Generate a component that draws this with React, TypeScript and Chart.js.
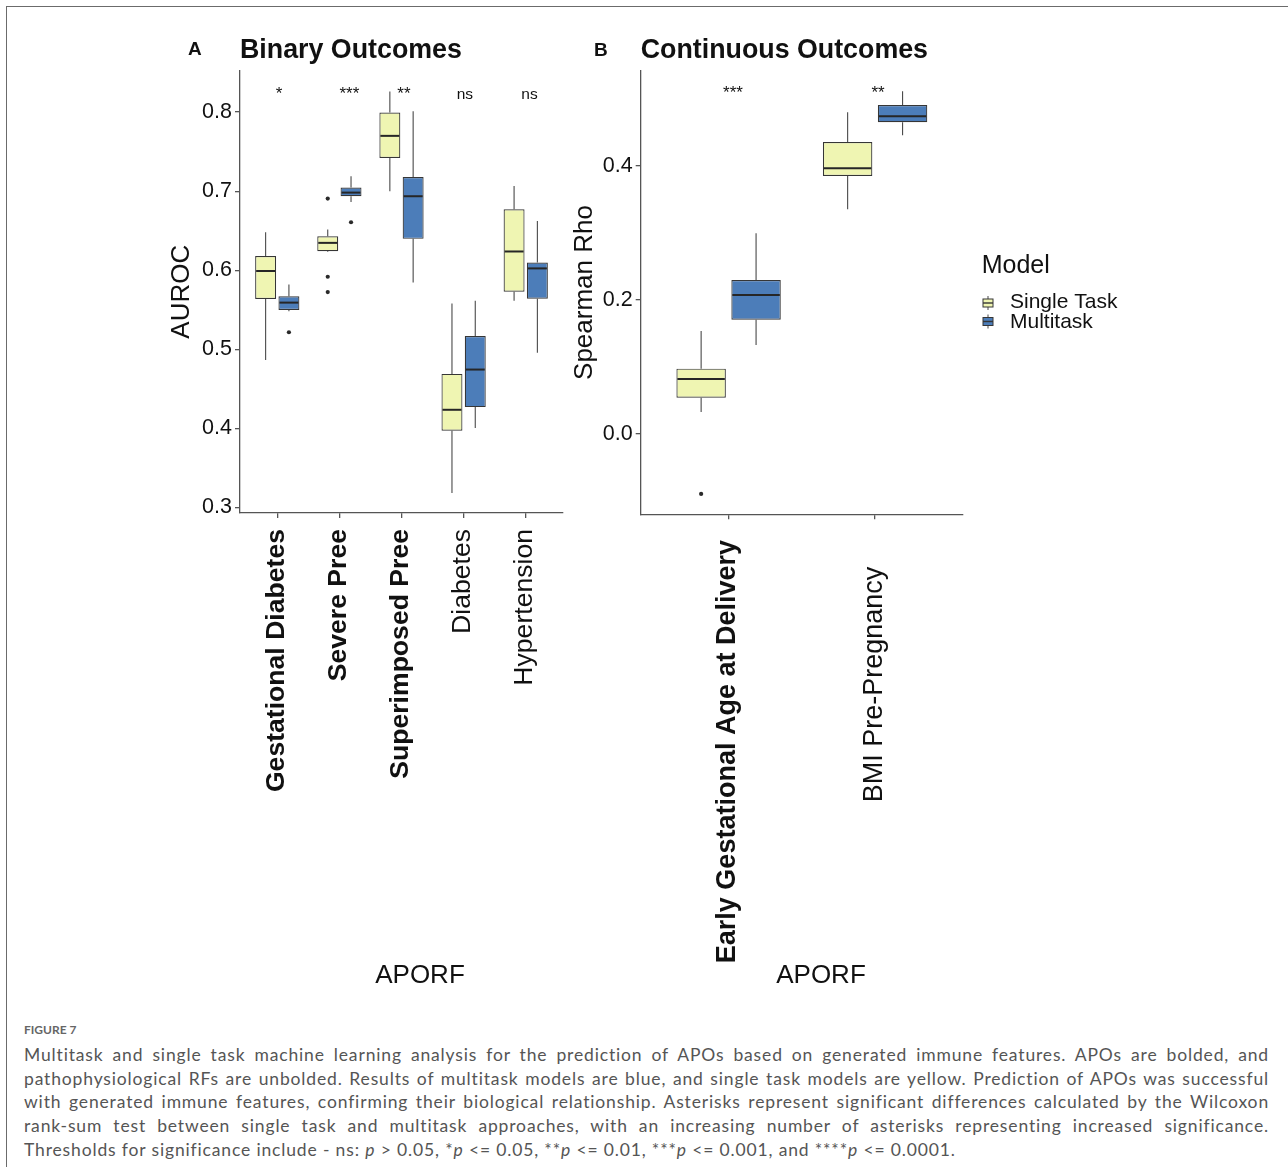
import React, { useEffect, useRef } from 'react';
import { Chart, registerables } from 'chart.js';

Chart.register(...registerables);

const SANS = '"Liberation Sans", Arial, Helvetica, sans-serif';
const SINGLE_FILL = '#EFF5B2';
const MULTI_FILL = '#4C7DB9';
const BOX_BORDER = '#363636';
const WHISKER = '#4a4a4a';
const AXIS = '#555555';
const INK = '#111111';

// ---------- Panel A: Binary outcomes (AUROC) ----------
// each entry: [min, q1, median, q3, max]
const binaryCategories = ['Gestational Diabetes', 'Severe Pree', 'Superimposed Pree', 'Diabetes', 'Hypertension'];
const binaryIsApo = [true, true, true, false, false];
const binarySingleTask = [
  [0.4865, 0.5635, 0.599, 0.618, 0.648],
  [0.623, 0.624, 0.6346, 0.643, 0.6515],
  [0.7, 0.742, 0.77, 0.7996, 0.826],
  [0.3182, 0.3969, 0.4234, 0.4688, 0.558],
  [0.5614, 0.5728, 0.6237, 0.6772, 0.7066],
];
const binarySingleOutliers = [[], [0.6906, 0.5917, 0.5724], [], [], []];
const binaryMultitask = [
  [0.548, 0.5496, 0.559, 0.567, 0.582],
  [0.6864, 0.6936, 0.6982, 0.7046, 0.7188],
  [0.5846, 0.6397, 0.6936, 0.718, 0.801],
  [0.4002, 0.4268, 0.4743, 0.5168, 0.5614],
  [0.4957, 0.5639, 0.6023, 0.6098, 0.6624],
];
const binaryMultiOutliers = [[0.5215], [0.6607], [], [], []];
const binarySignificance = ['*', '***', '**', 'ns', 'ns'];
const binarySigPos = [1.03, 2.16, 3.04, 4.02, 5.06];
const binaryYTicks = [0.3, 0.4, 0.5, 0.6, 0.7, 0.8];

// ---------- Panel B: Continuous outcomes (Spearman Rho) ----------
const continuousCategories = ['Early Gestational Age at Delivery', 'BMI Pre-Pregnancy'];
const continuousIsApo = [true, false];
const continuousSingleTask = [
  [0.0324, 0.0538, 0.0818, 0.0972, 0.1535],
  [0.3354, 0.3852, 0.3967, 0.436, 0.4804],
];
const continuousSingleOutliers = [[-0.0901], []];
const continuousMultitask = [
  [0.1326, 0.1704, 0.2073, 0.2297, 0.2995],
  [0.446, 0.4655, 0.4744, 0.4913, 0.5118],
];
const continuousMultiOutliers = [[], []];
const continuousSignificance = ['***', '**'];
const continuousSigPos = [1.03, 2.02];
const continuousYTicks = [0.0, 0.2, 0.4];

const legendLabels = ['Single Task', 'Multitask'];

interface Geo {
  width: number; height: number; left: number; top: number; right: number; xAxisHeight: number;
  tagX: number; tagY: number; titleY: number; yTitleX: number; labelGaps: number[]; labelSize: number;
  aporfX: number; aporfY: number;
}

interface Panel {
  tag: string; title: string; yTitle: string; xTitle: string;
  categories: string[]; bold: boolean[];
  single: number[][]; singleOut: number[][]; multi: number[][]; multiOut: number[][];
  sig: string[]; sigPos: number[]; sigY: number;
  yMin: number; yMax: number; yTicks: number[];
  geo: Geo; legend: boolean;
}

function drawKey(ctx: CanvasRenderingContext2D, cx: number, cy: number, fill: string) {
  const w = 10, h = 8;
  ctx.save();
  ctx.strokeStyle = WHISKER; ctx.lineWidth = 1;
  ctx.beginPath();
  ctx.moveTo(cx, cy - h / 2 - 3); ctx.lineTo(cx, cy - h / 2);
  ctx.moveTo(cx, cy + h / 2); ctx.lineTo(cx, cy + h / 2 + 3);
  ctx.stroke();
  ctx.fillStyle = fill; ctx.fillRect(cx - w / 2, cy - h / 2, w, h);
  ctx.strokeStyle = BOX_BORDER; ctx.lineWidth = 1;
  ctx.strokeRect(cx - w / 2, cy - h / 2, w, h);
  ctx.beginPath(); ctx.moveTo(cx - w / 2, cy); ctx.lineTo(cx + w / 2, cy); ctx.lineWidth = 1.4; ctx.stroke();
  ctx.restore();
}

function makeChart(canvas: HTMLCanvasElement, p: Panel) {
  const g = p.geo;
  const n = p.categories.length;
  const plugin = {
    id: 'boxplot' + p.tag,
    beforeDatasetsDraw(chart: any) {
      const ctx = chart.ctx; const y = chart.scales.y;
      [p.single, p.multi].forEach((series, d) => {
        const meta = chart.getDatasetMeta(d);
        series.forEach((s, i) => {
          const el: any = meta.data[i];
          const cx = el.x;
          ctx.save();
          ctx.strokeStyle = WHISKER; ctx.lineWidth = 1.1;
          ctx.beginPath();
          ctx.moveTo(cx, y.getPixelForValue(s[3])); ctx.lineTo(cx, y.getPixelForValue(s[4]));
          ctx.moveTo(cx, y.getPixelForValue(s[1])); ctx.lineTo(cx, y.getPixelForValue(s[0]));
          ctx.stroke();
          ctx.restore();
        });
      });
    },
    afterDatasetsDraw(chart: any) {
      const ctx = chart.ctx; const y = chart.scales.y;
      [p.single, p.multi].forEach((series, d) => {
        const meta = chart.getDatasetMeta(d);
        const outs = d === 0 ? p.singleOut : p.multiOut;
        series.forEach((s, i) => {
          const el: any = meta.data[i];
          const cx = el.x; const w = el.width;
          ctx.save();
          ctx.strokeStyle = '#262626'; ctx.lineWidth = 2;
          ctx.beginPath();
          const my = y.getPixelForValue(s[2]);
          ctx.moveTo(cx - w / 2 + 1, my); ctx.lineTo(cx + w / 2 - 1, my);
          ctx.stroke();
          ctx.fillStyle = '#2a2a2a';
          outs[i].forEach((o) => {
            ctx.beginPath(); ctx.arc(cx, y.getPixelForValue(o), 2.1, 0, Math.PI * 2); ctx.fill();
          });
          ctx.restore();
        });
      });
    },
    afterDraw(chart: any) {
      const ctx = chart.ctx; const ca = chart.chartArea; const x = chart.scales.x; const y = chart.scales.y;
      ctx.save();
      ctx.fillStyle = INK; ctx.textAlign = 'left'; ctx.textBaseline = 'alphabetic';
      ctx.font = `bold 19px ${SANS}`; ctx.fillText(p.tag, g.tagX, g.tagY);
      ctx.font = `bold 26.8px ${SANS}`; ctx.fillText(p.title, ca.left, g.titleY);
      // y title
      ctx.save();
      ctx.translate(g.yTitleX, (ca.top + ca.bottom) / 2); ctx.rotate(-Math.PI / 2);
      ctx.font = `26px ${SANS}`; ctx.textAlign = 'center'; ctx.textBaseline = 'middle';
      ctx.fillText(p.yTitle, 0, 0);
      ctx.restore();
      // x category labels
      p.categories.forEach((lab, i) => {
        const px = x.getPixelForValue(i + 1);
        ctx.save();
        ctx.translate(px - 1, ca.bottom + g.labelGaps[i]); ctx.rotate(-Math.PI / 2);
        ctx.font = `${p.bold[i] ? 'bold ' : ''}${g.labelSize}px ${SANS}`;
        ctx.textAlign = 'right'; ctx.textBaseline = 'middle';
        ctx.fillText(lab, 0, 0);
        ctx.restore();
      });
      // x title
      ctx.font = `26px ${SANS}`; ctx.textAlign = 'center'; ctx.textBaseline = 'alphabetic';
      ctx.fillText(p.xTitle, g.aporfX, g.aporfY);
      // significance labels
      p.sig.forEach((s, i) => {
        ctx.font = s === 'ns' ? `15.5px ${SANS}` : `17px ${SANS}`;
        ctx.fillText(s, x.getPixelForValue(p.sigPos[i]), y.getPixelForValue(p.sigY));
      });
      // legend
      if (p.legend) {
        ctx.textAlign = 'left';
        ctx.font = `25px ${SANS}`; ctx.fillText('Model', 421.7, 253.3);
        const fills = [SINGLE_FILL, MULTI_FILL];
        const keyY = [283, 301.5];
        const textY = [288.3, 308.3];
        ctx.font = `21px ${SANS}`;
        legendLabels.forEach((lab, i) => {
          drawKey(ctx, 428, keyY[i], fills[i]);
          ctx.fillStyle = INK;
          ctx.fillText(lab, 450, textY[i]);
        });
      }
      ctx.restore();
    },
  };

  const gridOpts = { display: true, drawOnChartArea: false, drawTicks: true, tickLength: 5, color: AXIS, lineWidth: 1.3, offset: false };
  const borderOpts = { display: true, color: AXIS, width: 1.3 };

  return new Chart(canvas, {
    type: 'bar',
    data: {
      datasets: [
        {
          label: legendLabels[0],
          data: p.single.map((s, i) => ({ x: i + 1, y: [s[1], s[3]] })) as any,
          backgroundColor: SINGLE_FILL, borderColor: BOX_BORDER, borderWidth: 1.2, borderSkipped: false,
          categoryPercentage: 0.75, barPercentage: 0.9,
        },
        {
          label: legendLabels[1],
          data: p.multi.map((s, i) => ({ x: i + 1, y: [s[1], s[3]] })) as any,
          backgroundColor: MULTI_FILL, borderColor: BOX_BORDER, borderWidth: 1.2, borderSkipped: false,
          categoryPercentage: 0.75, barPercentage: 0.9,
        },
      ],
    },
    options: {
      responsive: false,
      animation: false,
      devicePixelRatio: 1,
      layout: { padding: { left: 0, top: g.top, right: g.right, bottom: 0 } },
      plugins: { legend: { display: false }, tooltip: { enabled: false }, title: { display: false } },
      scales: {
        x: {
          type: 'linear', min: 0.4, max: n + 0.6, offset: false,
          afterBuildTicks: (s: any) => { s.ticks = p.categories.map((_, i) => ({ value: i + 1 })); },
          afterFit: (s: any) => { s.height = g.xAxisHeight; },
          ticks: { display: false },
          grid: gridOpts as any,
          border: borderOpts as any,
        },
        y: {
          type: 'linear', min: p.yMin, max: p.yMax,
          afterBuildTicks: (s: any) => { s.ticks = p.yTicks.map((v) => ({ value: v })); },
          afterFit: (s: any) => { s.width = g.left; },
          ticks: { color: INK, font: { family: SANS, size: 21.5 }, padding: 3, callback: (v: any) => Number(v).toFixed(1) },
          grid: gridOpts as any,
          border: borderOpts as any,
        },
      },
    } as any,
    plugins: [plugin],
  });
}

const panelA: Panel = {
  tag: 'A', title: 'Binary Outcomes', yTitle: 'AUROC', xTitle: 'APORF',
  categories: binaryCategories, bold: binaryIsApo,
  single: binarySingleTask, singleOut: binarySingleOutliers, multi: binaryMultitask, multiOut: binaryMultiOutliers,
  sig: binarySignificance, sigPos: binarySigPos, sigY: 0.817,
  yMin: 0.2928, yMax: 0.8527, yTicks: binaryYTicks,
  geo: {
    width: 445, height: 990, left: 100, top: 50.5, right: 22, xAxisHeight: 497,
    tagX: 48, tagY: 35, titleY: 38.3, yTitleX: 42, labelGaps: [16, 16, 16, 16, 16], labelSize: 26.6,
    aporfX: 280, aporfY: 963,
  },
  legend: false,
};

const panelB: Panel = {
  tag: 'B', title: 'Continuous Outcomes', yTitle: 'Spearman Rho', xTitle: 'APORF',
  categories: continuousCategories, bold: continuousIsApo,
  single: continuousSingleTask, singleOut: continuousSingleOutliers, multi: continuousMultitask, multiOut: continuousMultiOutliers,
  sig: continuousSignificance, sigPos: continuousSigPos, sigY: 0.5018,
  yMin: -0.1205, yMax: 0.5426, yTicks: continuousYTicks,
  geo: {
    width: 700, height: 990, left: 80.7, top: 50.7, right: 297, xAxisHeight: 495.7,
    tagX: 34, tagY: 36, titleY: 38.3, yTitleX: 25, labelGaps: [25.7, 52.4], labelSize: 27,
    aporfX: 261, aporfY: 963,
  },
  legend: true,
};

function PanelCanvas({ panel, left, top }: { panel: Panel; left: number; top: number }) {
  const ref = useRef<HTMLCanvasElement>(null);
  useEffect(() => {
    if (!ref.current) return;
    const chart = makeChart(ref.current, panel);
    return () => chart.destroy();
  }, [panel]);
  return (
    <canvas
      ref={ref}
      width={panel.geo.width}
      height={panel.geo.height}
      style={{ position: 'absolute', left, top, width: panel.geo.width, height: panel.geo.height }}
    />
  );
}

const captionLines = [
  'Multitask and single task machine learning analysis for the prediction of APOs based on generated immune features. APOs are bolded, and',
  'pathophysiological RFs are unbolded. Results of multitask models are blue, and single task models are yellow. Prediction of APOs was successful',
  'with generated immune features, confirming their biological relationship. Asterisks represent significant differences calculated by the Wilcoxon',
  'rank-sum test between single task and multitask approaches, with an increasing number of asterisks representing increased significance.',
];

export default function App() {
  const capFont = 'Lato, "Open Sans", sans-serif';
  const lineStyle: React.CSSProperties = {
    whiteSpace: 'nowrap', textAlign: 'justify', textAlignLast: 'justify' as any, height: 23.7, overflow: 'visible',
  };
  return (
    <div style={{ position: 'fixed', left: 0, top: 0, width: 1288, height: 1167, background: '#fff', overflow: 'hidden' }}>
      <div style={{ position: 'absolute', left: 6, top: 6, right: -2, bottom: -2, borderTop: '1.5px solid #6b6b6b', borderLeft: '1.5px solid #6b6b6b' }} />
      <PanelCanvas panel={panelA} left={140} top={20} />
      <PanelCanvas panel={panelB} left={560} top={20} />
      <div style={{ position: 'absolute', left: 24, top: 1022, fontFamily: capFont, fontSize: 12, fontWeight: 700, color: '#666', letterSpacing: 0 }}>
        FIGURE 7
      </div>
      <div style={{ position: 'absolute', left: 24, top: 1043, width: 1245, fontFamily: capFont, fontSize: 17.5, color: '#555', lineHeight: '23.7px', letterSpacing: 0.85 }}>
        {captionLines.map((l, i) => (
          <div key={i} style={lineStyle}>{l}</div>
        ))}
        <div style={{ whiteSpace: 'nowrap', height: 23.7 }}>
          Thresholds for significance include - ns: <i>p</i> {'>'} 0.05, *<i>p</i> {'<='} 0.05, **<i>p</i> {'<='} 0.01, ***<i>p</i> {'<='} 0.001, and ****<i>p</i> {'<='} 0.0001.
        </div>
      </div>
    </div>
  );
}
